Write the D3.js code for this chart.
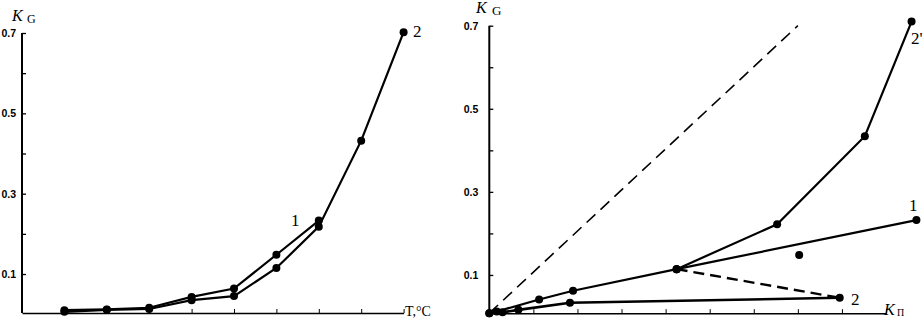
<!DOCTYPE html>
<html>
<head>
<meta charset="utf-8">
<script src="https://cdn.jsdelivr.net/npm/d3@7"></script>
<style>
body{margin:0;background:#fff;}
svg{display:block;}
</style>
</head>
<body>
<div id="chart"></div>
<script>
// left panel: K_G vs temperature step (index positions on the T axis)
var tSteps = [1, 2, 3, 4, 5, 6, 7, 8, 9];
var kg1 = [0.010, 0.012, 0.016, 0.043, 0.064, 0.148, 0.233];
var kg2 = [0.006, 0.011, 0.013, 0.035, 0.045, 0.115, 0.218, 0.432, 0.702];

// right panel: K_G vs K_П
var kpA = [0.000, 0.017, 0.113, 0.190, 0.425];           // shared start of 1 and 2'
var kgA = [0.008, 0.012, 0.041, 0.062, 0.114];
var kp1 = [0.425, 0.969];
var kg1r = [0.114, 0.232];
var kp2p = [0.425, 0.653, 0.852, 0.958];
var kg2p = [0.114, 0.222, 0.434, 0.710];
var kp2 = [0.000, 0.030, 0.066, 0.183, 0.795];
var kg2r = [0.008, 0.010, 0.016, 0.033, 0.045];
var kp2d = [0.425, 0.795];
var kg2d = [0.114, 0.045];
var kpLone = [0.703];
var kgLone = [0.148];
var diag = [0, 0.7];

var yTicks = [0.1, 0.3, 0.5, 0.7];
var yMinor = [0.2, 0.4, 0.6];

var W = 924, H = 319;
var svg = d3.select("#chart").append("svg")
    .attr("width", W).attr("height", H);

function pts(xs, ys){ return ys.map((y,i)=>[xs[i], y]); }

function panel(g, x, y, xTicks, x0, xAxisVal, pad){
    var yAxis = d3.axisLeft(y).tickValues(yTicks.concat(yMinor))
        .tickSizeInner(-4).tickSizeOuter(0).tickPadding(pad)
        .tickFormat(d => yTicks.indexOf(d) >= 0 ? d3.format(".1f")(d) : "");
    var ya = g.append("g").attr("transform", "translate(" + x(x0) + ",0)").call(yAxis);
    ya.select(".domain").attr("d", "M0," + y(xAxisVal) + "V" + y(0.7)).attr("stroke-width", 2);
    ya.selectAll("line").attr("stroke-width", 1.3);
    ya.selectAll("text").attr("font-family", "Liberation Sans, Arial").attr("font-size", 10.5)
        .attr("font-weight", "bold").attr("fill", "#000");

    var xAxis = d3.axisBottom(x).tickValues(xTicks).tickSizeInner(-4).tickSizeOuter(0).tickFormat("");
    var xa = g.append("g").attr("transform", "translate(0," + y(xAxisVal) + ")").call(xAxis);
    xa.select(".domain").attr("stroke-width", 1.5);
}

function curve(g, x, y, data, dash, w){
    var line = d3.line().x(d => x(d[0])).y(d => y(d[1]));
    g.append("path").attr("d", line(data)).attr("fill", "none")
        .attr("stroke", "#000").attr("stroke-width", w || 2.2)
        .attr("stroke-dasharray", dash || null);
}
function dots(g, x, y, data){
    g.selectAll(null).data(data).enter().append("circle")
        .attr("cx", d => x(d[0])).attr("cy", d => y(d[1])).attr("r", 4).attr("fill", "#000");
}
function label(g, x, y, txt, size, style){
    g.append("text").attr("x", x).attr("y", y).text(txt)
        .attr("font-family", "Liberation Serif, Times New Roman").attr("font-size", size)
        .attr("font-style", style || "normal").attr("fill", "#000");
}

// ---- left panel
var gl = svg.append("g");
var xl = d3.scaleLinear().domain([0, 9]).range([22, 403.6]);
var yl = d3.scaleLinear().domain([0, 0.7]).range([314.2, 33]);
panel(gl, xl, yl, tSteps, 0, 0.003, 6);
curve(gl, xl, yl, pts(tSteps, kg1));
curve(gl, xl, yl, pts(tSteps, kg2));
dots(gl, xl, yl, pts(tSteps, kg1));
dots(gl, xl, yl, pts(tSteps, kg2));
label(gl, 12, 21, "K", 16, "italic");
label(gl, 27, 23, "G", 12);
label(gl, 405, 316, "T,°C", 14);
label(gl, 291, 226, "1", 17);
label(gl, 413, 37, "2", 17);

// ---- right panel
var gr = svg.append("g");
var xr = d3.scaleLinear().domain([0, 0.9]).range([489.3, 886]);
var yr = d3.scaleLinear().domain([0, 0.7]).range([316.5, 25.7]);
panel(gr, xr, yr, d3.range(1, 10).map(d => d / 10), 0, 0.008, 11);
var lineD = d3.line().x(d => xr(d[0])).y(d => yr(d[0] + 0.008 * (1 - d[0] / 0.7)));
gr.append("path").attr("d", lineD(pts(diag, diag))).attr("fill", "none")
    .attr("stroke", "#000").attr("stroke-width", 1.6).attr("stroke-dasharray", "12,7");
curve(gr, xr, yr, pts(kpA, kgA));
curve(gr, xr, yr, pts(kp1, kg1r));
curve(gr, xr, yr, pts(kp2p, kg2p));
curve(gr, xr, yr, pts(kp2, kg2r), null, 2.6);
curve(gr, xr, yr, pts(kp2d, kg2d), "11,6", 2.4);
dots(gr, xr, yr, pts(kpA, kgA));
dots(gr, xr, yr, pts(kp1, kg1r));
dots(gr, xr, yr, pts(kp2p, kg2p));
dots(gr, xr, yr, pts(kp2, kg2r));
dots(gr, xr, yr, pts(kpLone, kgLone));
label(gr, 476, 13, "K", 16, "italic");
label(gr, 492, 15, "G", 13);
label(gr, 884, 315, "K", 16, "italic");
label(gr, 897, 316, "П", 10);
label(gr, 911, 44, "2'", 17);
label(gr, 909, 211, "1", 17);
label(gr, 851, 305, "2", 17);
</script>
</body>
</html>
